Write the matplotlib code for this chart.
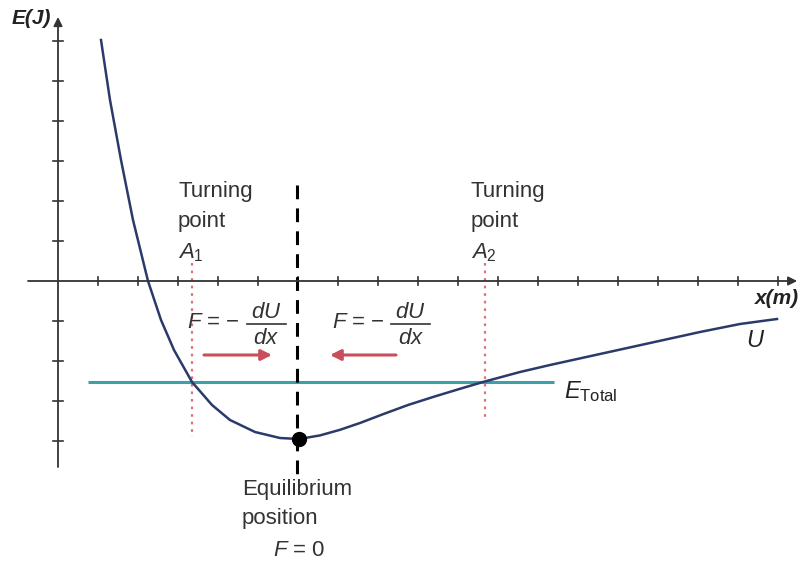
import matplotlib
matplotlib.use("Agg")
import matplotlib.pyplot as plt

plt.rcParams['font.family'] = ['Liberation Sans', 'DejaVu Sans']
plt.rcParams['mathtext.fontset'] = 'custom'
plt.rcParams['mathtext.rm'] = 'Liberation Sans'
plt.rcParams['mathtext.it'] = 'Liberation Sans:italic'
plt.rcParams['mathtext.bf'] = 'Liberation Sans:bold'

# ---- data ----
u_x = [1.075, 1.30, 1.575, 1.875, 2.25, 2.575, 2.90, 3.35, 3.85, 4.30, 4.925,
       5.55, 6.025, 6.55, 7.05, 7.55, 8.125, 8.75, 9.375, 10.0, 10.625, 11.55,
       12.30, 13.55, 14.80, 16.05, 17.05, 17.975]
u_y = [6.025, 4.525, 3.025, 1.525, 0.0, -0.975, -1.725, -2.525, -3.10, -3.475,
       -3.775, -3.925, -3.95, -3.86, -3.72, -3.55, -3.33, -3.10, -2.90, -2.71,
       -2.525, -2.275, -2.10, -1.825, -1.55, -1.275, -1.075, -0.95]
e_total = -2.52
e_total_x = [0.75, 12.4]
turning_x = [3.35, 10.67]
turning_bottom = [-3.9, -3.4]
turning_labels = ["Turning\npoint\n$A_1$", "Turning\npoint\n$A_2$"]
equil_x = 6.025
equil_y = -3.95
x_ticks = list(range(1, 19))
y_ticks = [-4, -3, -2, -1, 1, 2, 3, 4, 5, 6]

fig = plt.figure(figsize=(7.99, 5.62), dpi=100)
ax = fig.add_axes([0, 0, 1, 1])
ax.set_xlim(-1.45, 18.525)
ax.set_ylim(-7.025, 7.025)
ax.axis('off')

axis_col = '#333333'
txt_col = '#333333'
# axes with arrows
ax.annotate('', xy=(18.48, 0), xytext=(-0.75, 0), annotation_clip=False,
            arrowprops=dict(arrowstyle='-|>', color=axis_col, lw=1.3,
                            mutation_scale=13, shrinkA=0, shrinkB=0))
ax.annotate('', xy=(0, 6.6), xytext=(0, -4.65), annotation_clip=False,
            arrowprops=dict(arrowstyle='-|>', color=axis_col, lw=1.3,
                            mutation_scale=13, shrinkA=0, shrinkB=0))
for t in x_ticks:
    ax.plot([t, t], [-0.1, 0.1], color=axis_col, lw=1.2)
for t in y_ticks:
    ax.plot([-0.13, 0.13], [t, t], color=axis_col, lw=1.2)

ax.text(-1.15, 6.55, 'E(J)', fontsize=15, fontweight='bold',
        fontstyle='italic', va='center', ha='left', color='#222222')
ax.text(18.52, -0.45, 'x(m)', fontsize=15, fontweight='bold',
        fontstyle='italic', va='center', ha='right', color='#222222')

# E total line
ax.plot(e_total_x, [e_total, e_total], color='#3d9fa7', lw=2.2, solid_capstyle='butt')
ax.text(12.65, e_total - 0.25, '$E_{\\mathrm{Total}}$', fontsize=17, va='center',
        ha='left', color='#222222')

# turning point lines
for tx, tb in zip(turning_x, turning_bottom):
    ax.plot([tx, tx], [0.45, tb], color='#e0707a', lw=1.6,
            linestyle=(0, (1.2, 2.2)))

# equilibrium dashed line
ax.plot([equil_x - 0.05, equil_x - 0.05], [2.4, -4.85], color='black', lw=2.2,
        linestyle=(0, (4.5, 3)))

# potential curve
ax.plot(u_x, u_y, color='#2b3a6a', lw=1.8, solid_joinstyle='round')
ax.plot([equil_x], [equil_y], 'o', color='black', ms=10)
ax.text(17.2, -1.5, '$U$', fontsize=17, va='center', ha='left', color='#222222')

# turning labels
for tx, lab in zip(turning_x, turning_labels):
    ax.text(tx - 0.35, 2.5, lab, fontsize=16, va='top', ha='left',
            linespacing=1.55, color=txt_col)

# force formulas (built from pieces so the fraction keeps full size)
for fx, bar_x0 in [(3.22, 4.72), (6.85, 8.33)]:
    ax.text(fx, -1.05, '$F$ = \u2212', fontsize=16, va='center', ha='left',
            color=txt_col)
    ax.plot([bar_x0, bar_x0 + 0.97], [-1.075, -1.075], color=txt_col, lw=1.2)
    ax.text(bar_x0 + 0.485, -0.78, '$dU$', fontsize=16, va='center',
            ha='center', color=txt_col)
    ax.text(bar_x0 + 0.485, -1.43, '$dx$', fontsize=16, va='center',
            ha='center', color=txt_col)

# red arrows
arrow_col = '#c8505a'
ax.annotate('', xy=(5.35, -1.85), xytext=(3.65, -1.85),
            arrowprops=dict(arrowstyle='-|>', color=arrow_col, lw=2.2,
                            mutation_scale=16, shrinkA=0, shrinkB=0))
ax.annotate('', xy=(6.8, -1.85), xytext=(8.45, -1.85),
            arrowprops=dict(arrowstyle='-|>', color=arrow_col, lw=2.2,
                            mutation_scale=16, shrinkA=0, shrinkB=0))

# equilibrium label
ax.text(4.6, -4.95, 'Equilibrium\nposition', fontsize=16, va='top', ha='left',
        linespacing=1.5, color=txt_col)
ax.text(6.03, -6.75, '$F$ = 0', fontsize=16, va='center', ha='center',
        color=txt_col)

fig.savefig('out.png', dpi=100)
